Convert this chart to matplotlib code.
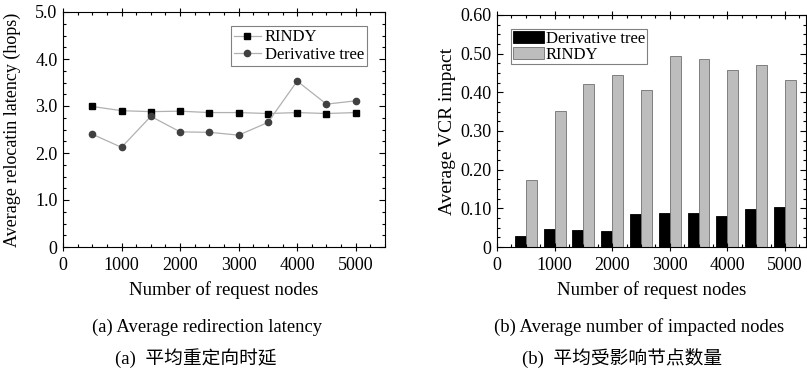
import matplotlib.pyplot as plt
from matplotlib.ticker import MultipleLocator, FuncFormatter
import numpy as np

plt.rcParams['font.family'] = ['Liberation Serif', 'Noto Sans CJK SC']
plt.rcParams['font.size'] = 13

# data
nodes = [500, 1000, 1500, 2000, 2500, 3000, 3500, 4000, 4500, 5000]
lat_rindy = [2.99, 2.90, 2.88, 2.89, 2.86, 2.86, 2.84, 2.86, 2.84, 2.86]
lat_tree = [2.40, 2.12, 2.78, 2.45, 2.44, 2.38, 2.65, 3.53, 3.04, 3.11]
vcr_tree = [0.028, 0.047, 0.045, 0.041, 0.086, 0.089, 0.089, 0.079, 0.098, 0.104]
vcr_rindy = [0.172, 0.351, 0.422, 0.444, 0.406, 0.495, 0.487, 0.458, 0.471, 0.433]

fig = plt.figure(figsize=(8.07, 3.74), dpi=100)


def style_ticks(ax):
    ax.tick_params(which='both', direction='in', top=True, right=True, labelsize=13, pad=4)
    ax.tick_params(which='major', length=4, width=0.8)
    ax.tick_params(which='minor', length=2.5, width=0.8)
    ax.tick_params(axis='x', which='major', direction='inout', length=6)
    for s in ax.spines.values():
        s.set_linewidth(0.8)


def fmt(digits):
    return FuncFormatter(lambda v, p: '0' if abs(v) < 1e-9 else f'{v:.{digits}f}')


# (a) latency
ax1 = fig.add_axes([63 / 807, 1 - 247 / 374, (385 - 63) / 807, (247 - 12) / 374])
ax1.plot(nodes, lat_rindy, color='#b0b0b0', lw=0.9, marker='s', ms=4.5,
         mfc='black', mec='black', label='RINDY')
ax1.plot(nodes, lat_tree, color='#b0b0b0', lw=0.9, marker='o', ms=4.5,
         mfc='#404040', mec='#404040', label='Derivative tree')
ax1.set_xlim(0, 5500)
ax1.set_ylim(0, 5.0)
ax1.xaxis.set_major_locator(MultipleLocator(1000))
ax1.xaxis.set_minor_locator(MultipleLocator(250))
ax1.yaxis.set_major_locator(MultipleLocator(1.0))
ax1.yaxis.set_minor_locator(MultipleLocator(0.25))
ax1.yaxis.set_major_formatter(fmt(1))
ax1.set_xlabel('Number of request nodes', fontsize=13.5, labelpad=5)
ax1.set_ylabel('Average relocatin latency (hops)', fontsize=13, labelpad=10)
style_ticks(ax1)
leg1 = ax1.legend(loc='upper right', bbox_to_anchor=(0.945, 0.94), fontsize=12,
                  fancybox=False, edgecolor='#606060', handlelength=1.6,
                  handletextpad=0.25, borderpad=0.2, labelspacing=0.1, borderaxespad=0)
leg1.get_frame().set_linewidth(0.8)

# (b) VCR impact
ax2 = fig.add_axes([497 / 807, 1 - 247 / 374, (806.5 - 497) / 807, (247 - 15) / 374])
x = np.array(nodes)
w = 190
ax2.bar(x - w / 2, vcr_tree, width=w, color='black', edgecolor='black', lw=0.6,
        label='Derivative tree')
ax2.bar(x + w / 2, vcr_rindy, width=w, color='#bdbdbd', edgecolor='#707070', lw=0.6,
        label='RINDY')
ax2.set_xlim(0, 5375)
ax2.set_ylim(0, 0.60)
ax2.xaxis.set_major_locator(MultipleLocator(1000))
ax2.xaxis.set_minor_locator(MultipleLocator(250))
ax2.yaxis.set_major_locator(MultipleLocator(0.1))
ax2.yaxis.set_minor_locator(MultipleLocator(0.025))
ax2.yaxis.set_major_formatter(fmt(2))
ax2.set_xlabel('Number of request nodes', fontsize=13.5, labelpad=5)
ax2.set_ylabel('Average VCR impact', fontsize=14, labelpad=3)
style_ticks(ax2)
leg2 = ax2.legend(loc='upper left', bbox_to_anchor=(0.045, 0.94), fontsize=12,
                  fancybox=False, edgecolor='#606060', handlelength=1.9, handleheight=0.75,
                  handletextpad=0.1, borderpad=0.1, labelspacing=0.0, borderaxespad=0)
leg2.get_frame().set_linewidth(0.8)

# captions
fig.text(207 / 807, 1 - 327 / 374, '(a) Average redirection latency', ha='center', va='center', fontsize=13.4)
fig.text(196 / 807, 1 - 358 / 374, '(a)  平均重定向时延', ha='center', va='center', fontsize=13.5)
fig.text(639 / 807, 1 - 327 / 374, '(b) Average number of impacted nodes', ha='center', va='center', fontsize=13.4)
fig.text(622 / 807, 1 - 358 / 374, '(b)  平均受影响节点数量', ha='center', va='center', fontsize=13.5)

fig.savefig('out.png', dpi=100)
